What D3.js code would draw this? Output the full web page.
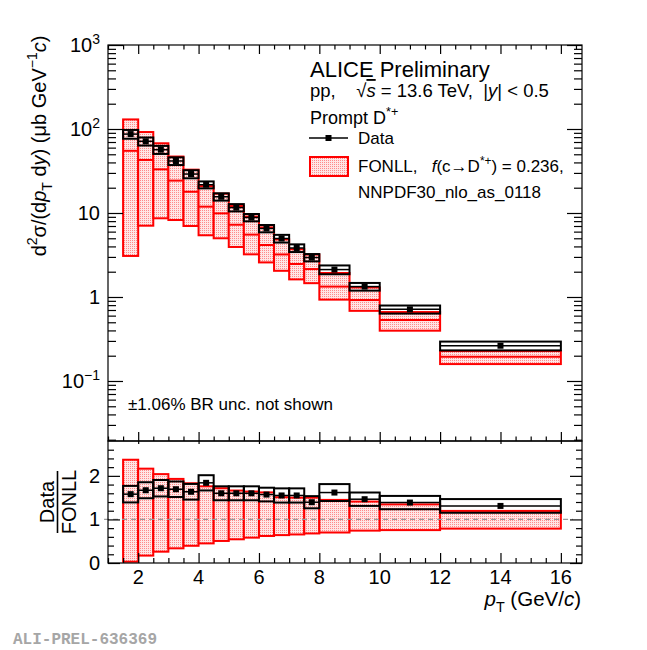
<!DOCTYPE html>
<html>
<head>
<meta charset="utf-8">
<script src="https://cdn.jsdelivr.net/npm/d3@7"></script>
<style>
  body { margin: 0; background: #fff; }
  svg { display: block; font-family: 'Liberation Sans', Arial, sans-serif; }
</style>
</head>
<body>
<div id="container"></div>
<script>
//DATA
const binEdges = [1.5, 2, 2.5, 3, 3.5, 4, 4.5, 5, 5.5, 6, 6.5, 7, 7.5, 8, 9, 10, 12, 16]
const dataXsec = [87, 71.4, 56.7, 41.6, 29.1, 21.7, 15.6, 11.6, 8.84, 6.54, 4.97, 3.83, 2.95, 2.12, 1.33, 0.713, 0.263]
const dataSystRel = [0.12, 0.11, 0.11, 0.105, 0.11, 0.095, 0.1, 0.1, 0.1, 0.1, 0.105, 0.105, 0.1, 0.12, 0.105, 0.11, 0.12]
const fonllCentral = [55, 42.8, 33.1, 24.3, 17.9, 11.9, 9.9, 7.25, 5.53, 4.16, 3.21, 2.47, 2.15, 1.33, 0.92, 0.532, 0.195]
const fonllMax = [130, 92, 67.6, 47, 32.8, 20.9, 17.0, 12.1, 9.07, 6.74, 4.85, 3.71, 3.2, 1.93, 1.30, 0.662, 0.227]
const fonllMin = [3.08, 7.06, 8.65, 8.25, 7.0, 5.43, 5.0, 3.94, 3.22, 2.58, 2.05, 1.62, 1.46, 0.93, 0.684, 0.397, 0.159]
const ratio = [1.58, 1.67, 1.716, 1.693, 1.635, 1.84, 1.6, 1.6, 1.6, 1.571, 1.55, 1.55, 1.395, 1.617, 1.464, 1.387, 1.31]
const ratioFonllHigh = [2.37, 2.165, 2.04, 1.93, 1.83, 1.76, 1.716, 1.663, 1.64, 1.62, 1.51, 1.50, 1.50, 1.448, 1.41, 1.345, 1.195]
const ratioFonllLow = [0.03, 0.17, 0.26, 0.337, 0.395, 0.45, 0.506, 0.544, 0.582, 0.62, 0.64, 0.655, 0.678, 0.70, 0.743, 0.755, 0.789]

//TICK LABELS
const logTickValues = [0.1, 1, 10, 100, 1000]
const logTickBase = ['10', '1', '10', '10', '10']
const logTickExp = ['\u22121', '', '', '2', '3']
const xTickValues = [2, 4, 6, 8, 10, 12, 14, 16]
const ratioTickValues = [0, 1, 2]

//BOX
const w = 647
const h = 650
const left = 108, right = 582
const topY = 45, midY = 441, botY = 563
const fs = 20

const bins = dataXsec.map((d, i) => ({
    lo: binEdges[i], hi: binEdges[i + 1], mid: (binEdges[i] + binEdges[i + 1]) / 2,
    y: d, syst: dataSystRel[i],
    fc: fonllCentral[i], fmax: fonllMax[i], fmin: fonllMin[i],
    r: ratio[i], rhi: ratioFonllHigh[i], rlo: ratioFonllLow[i]
}))

//SCALES
const xscale = d3.scaleLinear().domain([1, 16.7]).range([left, right])
const yscale = d3.scaleLog().domain([0.0193, 1000]).range([midY, topY])
const rscale = d3.scaleLinear().domain([0, 2.8]).range([botY, midY])

const svg = d3.select('#container')
    .append('svg')
    .attr('width', w)
    .attr('height', h)

const defs = svg.append('defs')
const pat = defs.append('pattern')
    .attr('id', 'dots')
    .attr('width', 2)
    .attr('height', 2)
    .attr('patternUnits', 'userSpaceOnUse')
pat.append('rect').attr('width', 2).attr('height', 2).attr('fill', '#ffe6e6')
pat.append('rect').attr('width', 1).attr('height', 1).attr('fill', '#ff8a8a')

//rich text helper: parts = [{t, i, sup, sub}]
function rich(sel, parts, size) {
    let shift = 0
    parts.forEach(p => {
        const ts = sel.append('tspan').text(p.t)
        let target = 0
        if (p.sup) target = -0.42 * size
        if (p.sub) target = 0.3 * size
        if (target - shift !== 0) ts.attr('dy', target - shift)
        shift = target
        if (p.sup || p.sub) ts.attr('font-size', size * 0.7)
        if (p.i) ts.attr('font-style', 'italic')
        if (p.over) ts.attr('text-decoration', 'overline')
    })
    return sel
}

//TOP PANEL: FONLL
const topG = svg.append('g')
topG.selectAll('rect.fonll')
    .data(bins)
    .enter()
    .append('rect')
    .attr('class', 'fonll')
    .attr('x', d => xscale(d.lo))
    .attr('width', d => xscale(d.hi) - xscale(d.lo))
    .attr('y', d => yscale(d.fmax))
    .attr('height', d => yscale(d.fmin) - yscale(d.fmax))
    .attr('fill', 'url(#dots)')
    .attr('stroke', '#ff0000')
    .attr('stroke-width', 2)

topG.selectAll('line.fc')
    .data(bins)
    .enter()
    .append('line')
    .attr('x1', d => xscale(d.lo))
    .attr('x2', d => xscale(d.hi))
    .attr('y1', d => yscale(d.fc))
    .attr('y2', d => yscale(d.fc))
    .attr('stroke', '#ff0000')
    .attr('stroke-width', 2)

//TOP PANEL: DATA
topG.selectAll('rect.syst')
    .data(bins)
    .enter()
    .append('rect')
    .attr('x', d => xscale(d.lo))
    .attr('width', d => xscale(d.hi) - xscale(d.lo))
    .attr('y', d => yscale(d.y * (1 + d.syst)))
    .attr('height', d => yscale(d.y * (1 - d.syst)) - yscale(d.y * (1 + d.syst)))
    .attr('fill', 'none')
    .attr('stroke', '#000')
    .attr('stroke-width', 2)

topG.selectAll('line.xerr')
    .data(bins)
    .enter()
    .append('line')
    .attr('x1', d => xscale(d.lo))
    .attr('x2', d => xscale(d.hi))
    .attr('y1', d => yscale(d.y))
    .attr('y2', d => yscale(d.y))
    .attr('stroke', '#000')
    .attr('stroke-width', 1.5)

topG.selectAll('rect.marker')
    .data(bins)
    .enter()
    .append('rect')
    .attr('x', d => xscale(d.mid) - 3)
    .attr('y', d => yscale(d.y) - 3)
    .attr('width', 6)
    .attr('height', 6)
    .attr('fill', '#000')

//RATIO PANEL
const botG = svg.append('g')
botG.selectAll('rect.rf')
    .data(bins)
    .enter()
    .append('rect')
    .attr('x', d => xscale(d.lo))
    .attr('width', d => xscale(d.hi) - xscale(d.lo))
    .attr('y', d => rscale(d.rhi))
    .attr('height', d => rscale(d.rlo) - rscale(d.rhi))
    .attr('fill', 'url(#dots)')
    .attr('stroke', '#ff0000')
    .attr('stroke-width', 2)

botG.append('line')
    .attr('x1', xscale(0.87))
    .attr('x2', xscale(16.4))
    .attr('y1', rscale(1))
    .attr('y2', rscale(1))
    .attr('stroke', '#999')
    .attr('stroke-width', 1.2)
    .attr('stroke-dasharray', '5,4')

botG.selectAll('rect.rsyst')
    .data(bins)
    .enter()
    .append('rect')
    .attr('x', d => xscale(d.lo))
    .attr('width', d => xscale(d.hi) - xscale(d.lo))
    .attr('y', d => rscale(d.r * (1 + d.syst)))
    .attr('height', d => rscale(d.r * (1 - d.syst)) - rscale(d.r * (1 + d.syst)))
    .attr('fill', 'none')
    .attr('stroke', '#000')
    .attr('stroke-width', 2)

botG.selectAll('line.rxerr')
    .data(bins)
    .enter()
    .append('line')
    .attr('x1', d => xscale(d.lo))
    .attr('x2', d => xscale(d.hi))
    .attr('y1', d => rscale(d.r))
    .attr('y2', d => rscale(d.r))
    .attr('stroke', '#000')
    .attr('stroke-width', 1.5)

botG.selectAll('rect.rmarker')
    .data(bins)
    .enter()
    .append('rect')
    .attr('x', d => xscale(d.mid) - 3)
    .attr('y', d => rscale(d.r) - 3)
    .attr('width', 6)
    .attr('height', 6)
    .attr('fill', '#000')

//FRAMES
svg.append('rect')
    .attr('x', left).attr('y', topY)
    .attr('width', right - left).attr('height', midY - topY)
    .attr('fill', 'none').attr('stroke', '#000').attr('stroke-width', 1.2)
svg.append('rect')
    .attr('x', left).attr('y', midY)
    .attr('width', right - left).attr('height', botY - midY)
    .attr('fill', 'none').attr('stroke', '#000').attr('stroke-width', 1.2)

//AXES helper (ticks only)
function ticks(axis, tx, ty, vals, size) {
    const g = svg.append('g')
        .attr('transform', 'translate(' + tx + ',' + ty + ')')
        .call(axis.tickValues(vals).tickSize(size).tickFormat(''))
    g.select('.domain').remove()
    g.selectAll('line').attr('stroke', '#000').attr('stroke-width', 1.2)
    return g
}

const xMajor = d3.range(2, 16.01, 2)
const xMinor = d3.range(1, 16.7, 0.5).filter(v => v % 2 !== 0)

//x ticks: top panel top, top panel bottom, ratio top, ratio bottom
ticks(d3.axisTop(xscale), 0, topY, xMajor, -9)
ticks(d3.axisTop(xscale), 0, topY, xMinor, -4.5)
ticks(d3.axisBottom(xscale), 0, midY, xMajor, -9)
ticks(d3.axisBottom(xscale), 0, midY, xMinor, -4.5)
ticks(d3.axisTop(xscale), 0, midY, xMajor, -3)
ticks(d3.axisBottom(xscale), 0, botY, xMajor, -10)
ticks(d3.axisBottom(xscale), 0, botY, xMinor, -5)

//log y ticks
const yAll = yscale.ticks().filter(v => v >= yscale.domain()[0] && v <= 1000)
const yMajor = yAll.filter(v => Math.abs(Math.log10(v) - Math.round(Math.log10(v))) < 1e-6)
const yMinor = yAll.filter(v => !yMajor.includes(v))
ticks(d3.axisLeft(yscale), left, 0, yMajor, -15)
ticks(d3.axisLeft(yscale), left, 0, yMinor, -8)
ticks(d3.axisRight(yscale), right, 0, yMajor, -15)
ticks(d3.axisRight(yscale), right, 0, yMinor, -8)

//ratio y ticks
const rMajor = [0, 1, 2]
const rMinor = d3.range(0.2, 2.8, 0.2).filter(v => Math.abs(v - Math.round(v)) > 1e-6)
ticks(d3.axisLeft(rscale), left, 0, rMajor, -12)
ticks(d3.axisLeft(rscale), left, 0, rMinor, -6)
ticks(d3.axisRight(rscale), right, 0, rMajor, -12)
ticks(d3.axisRight(rscale), right, 0, rMinor, -6)

//TICK LABELS
logTickValues.forEach((v, i) => {
    const t = svg.append('text')
        .attr('x', 100)
        .attr('y', yscale(v) + 7)
        .attr('text-anchor', 'end')
        .attr('font-size', fs)
    const parts = [{ t: logTickBase[i] }]
    if (logTickExp[i]) parts.push({ t: logTickExp[i], sup: true })
    rich(t, parts, fs)
})

svg.selectAll('text.xl')
    .data(xTickValues)
    .enter()
    .append('text')
    .attr('x', d => xscale(d))
    .attr('y', 584)
    .attr('text-anchor', 'middle')
    .attr('font-size', fs)
    .text(d => d)

svg.selectAll('text.rl')
    .data(ratioTickValues)
    .enter()
    .append('text')
    .attr('x', 100)
    .attr('y', d => rscale(d) + 7)
    .attr('text-anchor', 'end')
    .attr('font-size', fs)
    .text(d => d)

//AXIS TITLES
rich(svg.append('text')
    .attr('transform', 'translate(45.5,146) rotate(-90)')
    .attr('text-anchor', 'middle')
    .attr('font-size', fs), [
    { t: 'd' }, { t: '2', sup: true }, { t: '\u03c3/(d' }, { t: 'p', i: true }, { t: 'T', sub: true },
    { t: '\u00a0d' }, { t: 'y', i: true }, { t: ')\u00a0(\u03bcb GeV' }, { t: '\u22121', sup: true },
    { t: 'c', i: true }, { t: ')' }
], fs)

svg.append('text')
    .attr('transform', 'translate(54,502) rotate(-90)')
    .attr('text-anchor', 'middle')
    .attr('font-size', fs)
    .text('Data')
svg.append('line')
    .attr('x1', 57.5).attr('x2', 57.5)
    .attr('y1', 471).attr('y2', 533)
    .attr('stroke', '#000').attr('stroke-width', 1.6)
svg.append('text')
    .attr('transform', 'translate(76,502) rotate(-90)')
    .attr('text-anchor', 'middle')
    .attr('font-size', fs)
    .text('FONLL')

rich(svg.append('text')
    .attr('x', 581)
    .attr('y', 606)
    .attr('text-anchor', 'end')
    .attr('font-size', 20.5), [
    { t: 'p', i: true }, { t: 'T', sub: true }, { t: '\u00a0(GeV/' }, { t: 'c', i: true }, { t: ')' }
], 20.5)

//LEGEND
const lx = 310
svg.append('text').attr('x', lx).attr('y', 77).attr('font-size', 22).text('ALICE Preliminary')
rich(svg.append('text').attr('x', lx).attr('y', 97).attr('font-size', 18.5), [
    { t: 'pp,\u00a0\u00a0\u00a0\u00a0\u221a' }, { t: 's', i: true, over: true },
    { t: '\u00a0= 13.6 TeV,\u00a0\u00a0|' }, { t: 'y', i: true }, { t: '| < 0.5' }
], 18.5)
rich(svg.append('text').attr('x', lx).attr('y', 124).attr('font-size', 18), [
    { t: 'Prompt D' }, { t: '*+', sup: true }
], 18)

svg.append('line')
    .attr('x1', 309).attr('x2', 348)
    .attr('y1', 138).attr('y2', 138)
    .attr('stroke', '#000').attr('stroke-width', 1.5)
svg.append('rect')
    .attr('x', 325.5).attr('y', 135).attr('width', 6).attr('height', 6)
    .attr('fill', '#000')
svg.append('text').attr('x', 358).attr('y', 144).attr('font-size', 17).text('Data')

svg.append('rect')
    .attr('x', 310).attr('y', 157).attr('width', 38).attr('height', 19)
    .attr('fill', 'url(#dots)').attr('stroke', '#ff0000').attr('stroke-width', 2)
rich(svg.append('text').attr('x', 358).attr('y', 172).attr('font-size', 17), [
    { t: 'FONLL,\u00a0\u00a0\u00a0' }, { t: 'f', i: true }, { t: '(c\u2192D' }, { t: '*+', sup: true },
    { t: ') = 0.236,' }
], 17)
svg.append('text').attr('x', 358).attr('y', 198).attr('font-size', 17).text('NNPDF30_nlo_as_0118')

svg.append('text').attr('x', 128).attr('y', 410).attr('font-size', 17).text('\u00b11.06% BR unc. not shown')

//WATERMARK
svg.append('text')
    .attr('x', 13).attr('y', 644)
    .attr('font-family', "'Liberation Mono', 'DejaVu Sans Mono', monospace")
    .attr('font-weight', 'bold')
    .attr('font-size', 16)
    .attr('fill', '#a6a6a6')
    .text('ALI-PREL-636369')
</script>
</body>
</html>
